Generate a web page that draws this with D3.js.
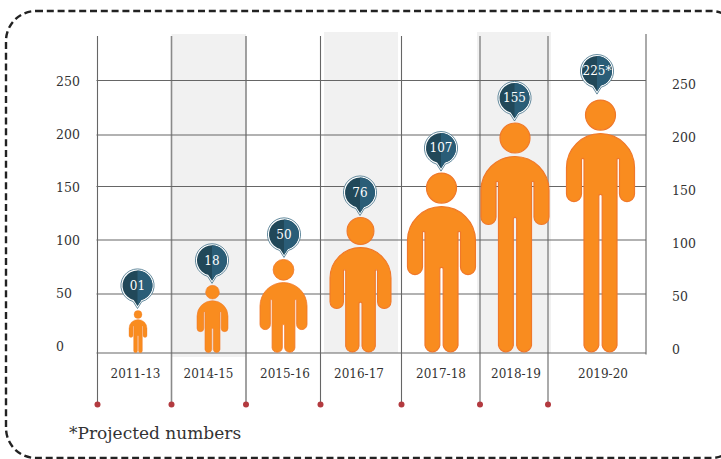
<!DOCTYPE html>
<html>
<head>
<meta charset="utf-8">
<script src="https://cdn.jsdelivr.net/npm/d3@7.9.0/dist/d3.min.js"></script>
<style>
  html, body { margin: 0; padding: 0; background: #fff; }
  svg { display: block; overflow: hidden; }
  text { font-family: "DejaVu Serif", serif; fill: #333; }
  .domain { display: none; }
</style>
</head>
<body>
<svg id="chart" width="721" height="459"></svg>
<script>
const years = ['2011-13', '2014-15', '2015-16', '2016-17', '2017-18', '2018-19', '2019-20'];
const values = [1, 18, 50, 76, 107, 155, 225];
const valueLabels = ['01', '18', '50', '76', '107', '155', '225*'];
// how tall each figure is drawn, read against the gridlines (not the same as its value)
const figureHeights = [36, 58, 82, 121, 163, 211, 232];
const ticks = [0, 50, 100, 150, 200, 250];
const footnote = '*Projected numbers';

const width = 721;
const height = 459;
const svg = d3.select('#chart');

// the gridlines in the picture are not evenly spaced, so the scale has a stop per tick
const gridY = d3.scaleLinear().domain(ticks).range([353, 294, 240, 186.5, 135, 80.5]);
const leftLabelY = d3.scaleLinear().domain([0, 250]).range([346, 81]);
const rightLabelY = d3.scaleLinear().domain([0, 250]).range([349, 84]);

// column edges are irregular too
const edgeX = d3.scaleLinear().domain(d3.range(8)).range([97.5, 171.5, 246, 320.5, 401.5, 480, 548, 646]);
const figureX = d3.scaleOrdinal().domain(years).range([138, 212.5, 283.5, 360.5, 441.5, 515, 600.5]);
const pinX = d3.scaleOrdinal().domain(years).range([137.5, 212, 284, 360, 441, 514.5, 597]);
const yearX = d3.scaleOrdinal().domain(years).range([135.5, 208.5, 285, 359, 441, 516, 603]);
const figureWidth = d3.scaleLinear().domain([1, 18, 50, 76, 107]).range([18, 31, 47, 61, 68]).clamp(true);

// outer dashed frame, runs off the right edge
svg.append('rect')
  .attr('x', 6).attr('y', 11)
  .attr('width', 735).attr('height', 447)
  .attr('rx', 30).attr('ry', 30)
  .attr('fill', 'none')
  .attr('stroke', '#222')
  .attr('stroke-width', 2.4)
  .attr('stroke-dasharray', '7 3.8');

// shaded columns
const bands = [
  { from: 1, to: 2, top: 34, bottom: 357, dx0: 0, dx1: 0 },
  { from: 3, to: 4, top: 32, bottom: 353, dx0: 3.5, dx1: -3.5 },
  { from: 5, to: 6, top: 32, bottom: 353, dx0: -3, dx1: 3 },
];
svg.append('g').selectAll('rect')
  .data(bands)
  .join('rect')
  .attr('x', (d) => edgeX(d.from) + d.dx0)
  .attr('y', (d) => d.top)
  .attr('width', (d) => edgeX(d.to) + d.dx1 - edgeX(d.from) - d.dx0)
  .attr('height', (d) => d.bottom - d.top)
  .attr('fill', '#f1f1f1');

// vertical rules ending in a red dot, last one is the plain right edge
const rules = svg.append('g');
rules.selectAll('line')
  .data(d3.range(7))
  .join('line')
  .attr('x1', (d) => edgeX(d))
  .attr('x2', (d) => edgeX(d))
  .attr('y1', 36)
  .attr('y2', 404)
  .attr('stroke', (d) => (d === 1 || d === 2 ? '#8a8a8a' : '#666'))
  .attr('stroke-width', (d) => (d === 1 || d === 2 ? 1.6 : 1.1));
rules.selectAll('circle')
  .data(d3.range(7))
  .join('circle')
  .attr('cx', (d) => edgeX(d))
  .attr('cy', 404.5)
  .attr('r', 3)
  .attr('fill', '#b33a3f');
svg.append('line')
  .attr('x1', edgeX(7)).attr('x2', edgeX(7))
  .attr('y1', 34).attr('y2', 354.5)
  .attr('stroke', '#aaa')
  .attr('stroke-width', 2);

// gridlines
svg.append('g')
  .selectAll('line')
  .data(ticks)
  .join('line')
  .attr('x1', 96.5)
  .attr('x2', 646)
  .attr('y1', (d) => gridY(d))
  .attr('y2', (d) => gridY(d))
  .attr('stroke', '#666')
  .attr('stroke-width', 1.1);

// tick labels on both sides, left aligned
const leftAxis = svg.append('g')
  .attr('transform', 'translate(56,0)')
  .call(d3.axisLeft(leftLabelY).tickValues(ticks).tickSize(0).tickPadding(0));
const rightAxis = svg.append('g')
  .attr('transform', 'translate(672,0)')
  .call(d3.axisRight(rightLabelY).tickValues(ticks).tickSize(0).tickPadding(0));
[leftAxis, rightAxis].forEach((axis) => {
  axis.attr('fill', null).attr('font-family', null).attr('font-size', null);
  axis.selectAll('text')
    .attr('x', 0)
    .attr('text-anchor', 'start')
    .style('font-size', '12.5px');
});

// year labels
svg.append('g')
  .selectAll('text')
  .data(years)
  .join('text')
  .attr('x', (d) => yearX(d))
  .attr('y', 374)
  .attr('dy', '0.35em')
  .attr('text-anchor', 'middle')
  .style('font-size', '12px')
  .text((d) => d);

// person shape, widths below are for the full size figure (68 wide)
function personPath(s, top, bottom) {
  const p = (x, y) => `${x * s},${y}`;
  const a = (r, sweep, x, y) => `A${r * s},${r * s} 0 0 ${sweep} ${x * s},${y}`;
  const y = (v) => top + v * s;
  const legEnd = bottom - 7.5 * s;
  return [
    `M${p(-34, y(34))}`, a(34, 1, 34, y(34)),
    `L${p(34, y(60.5))}`, a(7.5, 1, 19, y(60.5)),
    `L${p(19, y(25.5))}`, a(1.5, 0, 16.5, y(25.5)),
    `L${p(16.5, legEnd)}`, a(7.5, 1, 1.7, legEnd),
    `L${p(1.7, y(62.5))}`, a(1.7, 0, -1.7, y(62.5)),
    `L${p(-1.7, legEnd)}`, a(7.5, 1, -16.5, legEnd),
    `L${p(-16.5, y(25.5))}`, a(1.5, 0, -19, y(25.5)),
    `L${p(-19, y(60.5))}`, a(7.5, 1, -34, y(60.5)),
    'Z',
  ].join(' ');
}

const people = years.map((year, i) => ({
  year,
  label: valueLabels[i],
  s: figureWidth(values[i]) / 68,
  top: gridY(figureHeights[i]),
}));

const figures = svg.append('g')
  .selectAll('g')
  .data(people)
  .join('g')
  .attr('transform', (d) => `translate(${figureX(d.year)},0)`);
figures.append('circle')
  .attr('cy', (d) => d.top + 15 * d.s)
  .attr('r', (d) => 15 * d.s)
  .attr('fill', '#f98c1f')
  .attr('stroke', '#f0782a')
  .attr('stroke-width', (d) => 1.2 * d.s);
figures.append('path')
  .attr('d', (d) => personPath(d.s, d.top + 33.5 * d.s, gridY(0)))
  .attr('fill', '#f98c1f')
  .attr('stroke', '#f0782a')
  .attr('stroke-width', (d) => 1.2 * d.s);

// value pins
function pinPath(r, tip) {
  const dx = r * 0.26;
  const dy = Math.sqrt(r * r - dx * dx);
  return `M${-dx},${dy} A${r},${r} 0 1 1 ${dx},${dy} L0,${tip} Z`;
}
function pinRightHalf(r, tip) {
  const dx = r * 0.26;
  const dy = Math.sqrt(r * r - dx * dx);
  return `M0,${-r} A${r},${r} 0 0 1 ${dx},${dy} L0,${tip} Z`;
}

const pins = svg.append('g')
  .selectAll('g')
  .data(people)
  .join('g')
  .attr('transform', (d) => {
    const gap = d.year === '2019-20' ? 29 : 25;
    return `translate(${pinX(d.year)},${d.top - gap})`;
  });
pins.append('path')
  .attr('d', pinPath(16.6, 23))
  .attr('fill', '#fff')
  .attr('stroke', '#3f6f86')
  .attr('stroke-width', 0.8);
pins.append('path').attr('d', pinPath(15, 20.5)).attr('fill', '#214859');
pins.append('path').attr('d', pinRightHalf(15, 20.5)).attr('fill', '#2a5d77');
pins.append('text')
  .attr('text-anchor', 'middle')
  .attr('dy', '0.36em')
  .style('font-size', '12px')
  .style('fill', '#fff')
  .text((d) => d.label);

svg.append('text')
  .attr('x', 69)
  .attr('y', 439)
  .style('font-size', '17px')
  .text(footnote);
</script>
</body>
</html>
